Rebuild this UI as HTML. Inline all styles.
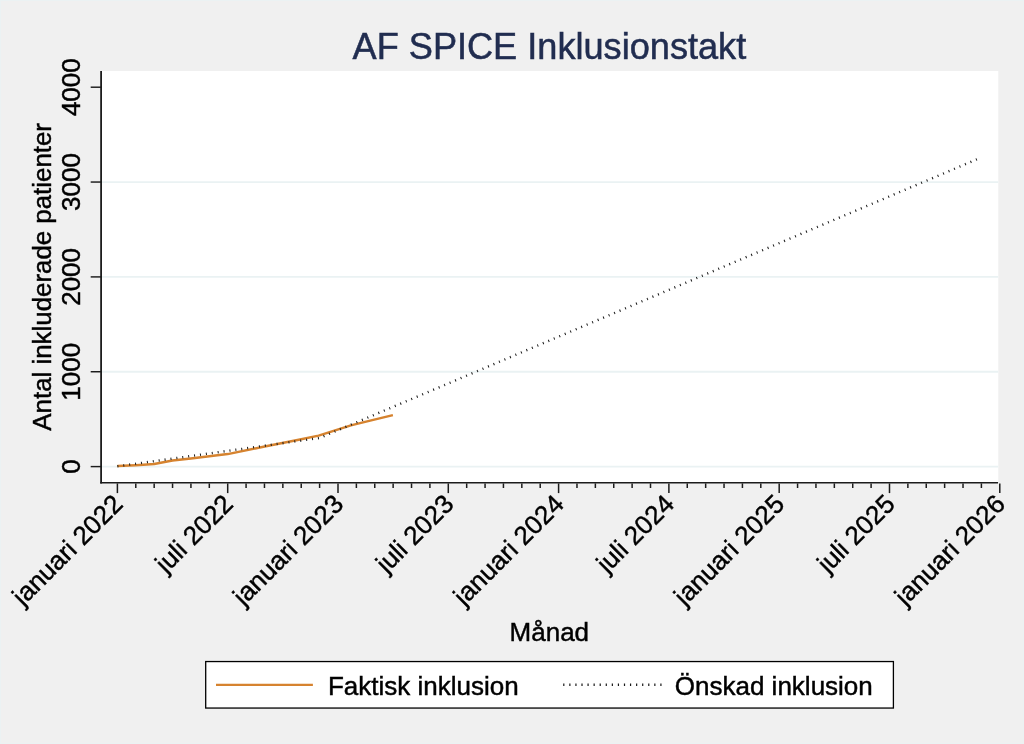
<!DOCTYPE html>
<html lang="sv">
<head>
<meta charset="utf-8">
<title>AF SPICE Inklusionstakt</title>
<style>
html,body{margin:0;padding:0;background:#f0f0f0;}
body{width:1024px;height:744px;overflow:hidden;}
svg{display:block;}
text{font-family:"Liberation Sans",Arial,Helvetica,sans-serif;fill:#000;}
.t{font-size:26px;stroke:#000;stroke-width:0.45px;}
.title{font-size:36.15px;fill:#212d50;stroke:#212d50;stroke-width:0.5px;}
</style>
</head>
<body>
<svg width="1024" height="744" viewBox="0 0 1024 744">
<rect x="0" y="0" width="1024" height="744" fill="#f0f0f0"/>
<rect x="0.5" y="0.5" width="1023" height="743" fill="none" stroke="#ebf2f3" stroke-width="1"/>
<rect x="101.1" y="71.0" width="897.15" height="411.6" fill="#ffffff"/>
<line x1="101.1" x2="998.25" y1="466.60" y2="466.60" stroke="#eaf2f3" stroke-width="1.8"/>
<line x1="101.1" x2="998.25" y1="371.75" y2="371.75" stroke="#eaf2f3" stroke-width="1.8"/>
<line x1="101.1" x2="998.25" y1="276.90" y2="276.90" stroke="#eaf2f3" stroke-width="1.8"/>
<line x1="101.1" x2="998.25" y1="182.05" y2="182.05" stroke="#eaf2f3" stroke-width="1.8"/>
<polyline fill="none" stroke="#d6832f" stroke-width="2.5" stroke-linejoin="round" points="117.4,466.0 135.8,465.2 154.2,464.0 172.5,460.6 190.9,458.4 209.3,456.3 227.7,454.1 263.5,446.7 300.0,439.5 318.6,435.6 350.9,425.4 370.2,420.6 392.9,415.1"/>
<polyline fill="none" stroke="#1a1a1a" stroke-width="2.4" stroke-dasharray="1.0 4.955" points="117.4,466.3 319.6,438.0 981.4,157.4"/>
<line x1="101.1" x2="101.1" y1="71.0" y2="483.5" stroke="#1c1c1c" stroke-width="1.8"/>
<line x1="100.19999999999999" x2="998.05" y1="482.75" y2="482.75" stroke="#1c1c1c" stroke-width="1.6"/>
<line x1="90.7" x2="101.1" y1="466.60" y2="466.60" stroke="#1c1c1c" stroke-width="1.45"/>
<text class="t" text-anchor="middle" transform="translate(80,466.60) rotate(-90)">0</text>
<line x1="90.7" x2="101.1" y1="371.75" y2="371.75" stroke="#1c1c1c" stroke-width="1.45"/>
<text class="t" text-anchor="middle" transform="translate(80,371.75) rotate(-90)">1000</text>
<line x1="90.7" x2="101.1" y1="276.90" y2="276.90" stroke="#1c1c1c" stroke-width="1.45"/>
<text class="t" text-anchor="middle" transform="translate(80,276.90) rotate(-90)">2000</text>
<line x1="90.7" x2="101.1" y1="182.05" y2="182.05" stroke="#1c1c1c" stroke-width="1.45"/>
<text class="t" text-anchor="middle" transform="translate(80,182.05) rotate(-90)">3000</text>
<line x1="90.7" x2="101.1" y1="87.20" y2="87.20" stroke="#1c1c1c" stroke-width="1.45"/>
<text class="t" text-anchor="middle" transform="translate(80,87.20) rotate(-90)">4000</text>
<line x1="117.40" x2="117.40" y1="483.40000000000003" y2="493.1" stroke="#1c1c1c" stroke-width="1.5"/>
<line x1="135.78" x2="135.78" y1="483.40000000000003" y2="488.0" stroke="#1c1c1c" stroke-width="1.5"/>
<line x1="154.17" x2="154.17" y1="483.40000000000003" y2="488.0" stroke="#1c1c1c" stroke-width="1.5"/>
<line x1="172.55" x2="172.55" y1="483.40000000000003" y2="488.0" stroke="#1c1c1c" stroke-width="1.5"/>
<line x1="190.93" x2="190.93" y1="483.40000000000003" y2="488.0" stroke="#1c1c1c" stroke-width="1.5"/>
<line x1="209.31" x2="209.31" y1="483.40000000000003" y2="488.0" stroke="#1c1c1c" stroke-width="1.5"/>
<line x1="227.70" x2="227.70" y1="483.40000000000003" y2="493.1" stroke="#1c1c1c" stroke-width="1.5"/>
<line x1="246.08" x2="246.08" y1="483.40000000000003" y2="488.0" stroke="#1c1c1c" stroke-width="1.5"/>
<line x1="264.46" x2="264.46" y1="483.40000000000003" y2="488.0" stroke="#1c1c1c" stroke-width="1.5"/>
<line x1="282.85" x2="282.85" y1="483.40000000000003" y2="488.0" stroke="#1c1c1c" stroke-width="1.5"/>
<line x1="301.23" x2="301.23" y1="483.40000000000003" y2="488.0" stroke="#1c1c1c" stroke-width="1.5"/>
<line x1="319.61" x2="319.61" y1="483.40000000000003" y2="488.0" stroke="#1c1c1c" stroke-width="1.5"/>
<line x1="338.00" x2="338.00" y1="483.40000000000003" y2="493.1" stroke="#1c1c1c" stroke-width="1.5"/>
<line x1="356.38" x2="356.38" y1="483.40000000000003" y2="488.0" stroke="#1c1c1c" stroke-width="1.5"/>
<line x1="374.76" x2="374.76" y1="483.40000000000003" y2="488.0" stroke="#1c1c1c" stroke-width="1.5"/>
<line x1="393.14" x2="393.14" y1="483.40000000000003" y2="488.0" stroke="#1c1c1c" stroke-width="1.5"/>
<line x1="411.53" x2="411.53" y1="483.40000000000003" y2="488.0" stroke="#1c1c1c" stroke-width="1.5"/>
<line x1="429.91" x2="429.91" y1="483.40000000000003" y2="488.0" stroke="#1c1c1c" stroke-width="1.5"/>
<line x1="448.29" x2="448.29" y1="483.40000000000003" y2="493.1" stroke="#1c1c1c" stroke-width="1.5"/>
<line x1="466.68" x2="466.68" y1="483.40000000000003" y2="488.0" stroke="#1c1c1c" stroke-width="1.5"/>
<line x1="485.06" x2="485.06" y1="483.40000000000003" y2="488.0" stroke="#1c1c1c" stroke-width="1.5"/>
<line x1="503.44" x2="503.44" y1="483.40000000000003" y2="488.0" stroke="#1c1c1c" stroke-width="1.5"/>
<line x1="521.83" x2="521.83" y1="483.40000000000003" y2="488.0" stroke="#1c1c1c" stroke-width="1.5"/>
<line x1="540.21" x2="540.21" y1="483.40000000000003" y2="488.0" stroke="#1c1c1c" stroke-width="1.5"/>
<line x1="558.59" x2="558.59" y1="483.40000000000003" y2="493.1" stroke="#1c1c1c" stroke-width="1.5"/>
<line x1="576.98" x2="576.98" y1="483.40000000000003" y2="488.0" stroke="#1c1c1c" stroke-width="1.5"/>
<line x1="595.36" x2="595.36" y1="483.40000000000003" y2="488.0" stroke="#1c1c1c" stroke-width="1.5"/>
<line x1="613.74" x2="613.74" y1="483.40000000000003" y2="488.0" stroke="#1c1c1c" stroke-width="1.5"/>
<line x1="632.12" x2="632.12" y1="483.40000000000003" y2="488.0" stroke="#1c1c1c" stroke-width="1.5"/>
<line x1="650.51" x2="650.51" y1="483.40000000000003" y2="488.0" stroke="#1c1c1c" stroke-width="1.5"/>
<line x1="668.89" x2="668.89" y1="483.40000000000003" y2="493.1" stroke="#1c1c1c" stroke-width="1.5"/>
<line x1="687.27" x2="687.27" y1="483.40000000000003" y2="488.0" stroke="#1c1c1c" stroke-width="1.5"/>
<line x1="705.66" x2="705.66" y1="483.40000000000003" y2="488.0" stroke="#1c1c1c" stroke-width="1.5"/>
<line x1="724.04" x2="724.04" y1="483.40000000000003" y2="488.0" stroke="#1c1c1c" stroke-width="1.5"/>
<line x1="742.42" x2="742.42" y1="483.40000000000003" y2="488.0" stroke="#1c1c1c" stroke-width="1.5"/>
<line x1="760.80" x2="760.80" y1="483.40000000000003" y2="488.0" stroke="#1c1c1c" stroke-width="1.5"/>
<line x1="779.19" x2="779.19" y1="483.40000000000003" y2="493.1" stroke="#1c1c1c" stroke-width="1.5"/>
<line x1="797.57" x2="797.57" y1="483.40000000000003" y2="488.0" stroke="#1c1c1c" stroke-width="1.5"/>
<line x1="815.95" x2="815.95" y1="483.40000000000003" y2="488.0" stroke="#1c1c1c" stroke-width="1.5"/>
<line x1="834.34" x2="834.34" y1="483.40000000000003" y2="488.0" stroke="#1c1c1c" stroke-width="1.5"/>
<line x1="852.72" x2="852.72" y1="483.40000000000003" y2="488.0" stroke="#1c1c1c" stroke-width="1.5"/>
<line x1="871.10" x2="871.10" y1="483.40000000000003" y2="488.0" stroke="#1c1c1c" stroke-width="1.5"/>
<line x1="889.49" x2="889.49" y1="483.40000000000003" y2="493.1" stroke="#1c1c1c" stroke-width="1.5"/>
<line x1="907.87" x2="907.87" y1="483.40000000000003" y2="488.0" stroke="#1c1c1c" stroke-width="1.5"/>
<line x1="926.25" x2="926.25" y1="483.40000000000003" y2="488.0" stroke="#1c1c1c" stroke-width="1.5"/>
<line x1="944.63" x2="944.63" y1="483.40000000000003" y2="488.0" stroke="#1c1c1c" stroke-width="1.5"/>
<line x1="963.02" x2="963.02" y1="483.40000000000003" y2="488.0" stroke="#1c1c1c" stroke-width="1.5"/>
<line x1="981.40" x2="981.40" y1="483.40000000000003" y2="488.0" stroke="#1c1c1c" stroke-width="1.5"/>
<line x1="999.78" x2="999.78" y1="483.40000000000003" y2="493.1" stroke="#1c1c1c" stroke-width="1.5"/>
<text class="t" text-anchor="end" transform="translate(117.70,498.9) rotate(-45)" dy="9.3">januari 2022</text>
<text class="t" text-anchor="end" transform="translate(228.00,498.9) rotate(-45)" dy="9.3">juli 2022</text>
<text class="t" text-anchor="end" transform="translate(338.30,498.9) rotate(-45)" dy="9.3">januari 2023</text>
<text class="t" text-anchor="end" transform="translate(448.59,498.9) rotate(-45)" dy="9.3">juli 2023</text>
<text class="t" text-anchor="end" transform="translate(558.89,498.9) rotate(-45)" dy="9.3">januari 2024</text>
<text class="t" text-anchor="end" transform="translate(669.19,498.9) rotate(-45)" dy="9.3">juli 2024</text>
<text class="t" text-anchor="end" transform="translate(779.49,498.9) rotate(-45)" dy="9.3">januari 2025</text>
<text class="t" text-anchor="end" transform="translate(889.79,498.9) rotate(-45)" dy="9.3">juli 2025</text>
<text class="t" text-anchor="end" transform="translate(1000.08,498.9) rotate(-45)" dy="9.3">januari 2026</text>
<text class="t" style="font-size:25.86px" text-anchor="middle" transform="translate(51.3,276.85) rotate(-90)">Antal inkluderade patienter</text>
<text class="t" text-anchor="middle" x="549.3" y="641.1">Månad</text>
<text class="title" text-anchor="middle" x="549.4" y="58.7">AF SPICE Inklusionstakt</text>
<rect x="205.7" y="661.55" width="687.7" height="46.5" fill="#fff" stroke="#000" stroke-width="1.3"/>
<line x1="216" x2="312.9" y1="684.85" y2="684.85" stroke="#d6832f" stroke-width="2.4"/>
<text class="t" x="327.9" y="695.3">Faktisk inklusion</text>
<line x1="563.2" x2="662" y1="684.75" y2="684.75" stroke="#1a1a1a" stroke-width="2.3" stroke-dasharray="1.2 4.87"/>
<text class="t" x="674.8" y="695.3">Önskad inklusion</text>
</svg>
</body>
</html>
